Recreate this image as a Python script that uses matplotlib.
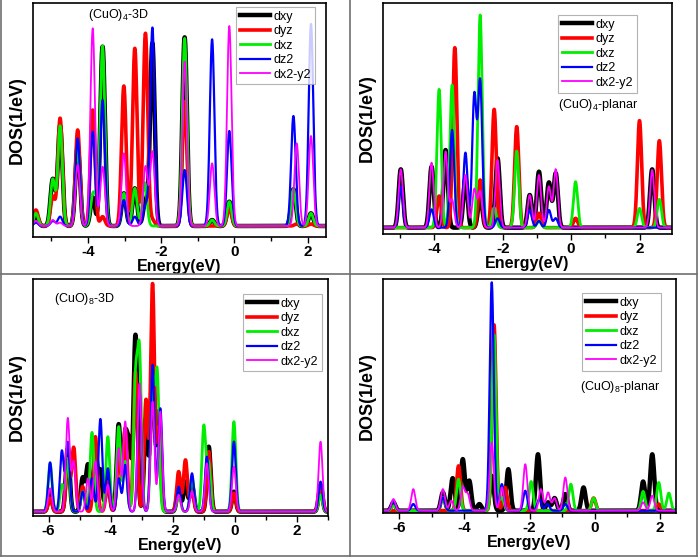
import numpy as np
import matplotlib
matplotlib.use("Agg")
import matplotlib.pyplot as plt
from matplotlib.lines import Line2D
from matplotlib.ticker import MultipleLocator

plt.rcParams['font.family'] = ['Liberation Sans', 'DejaVu Sans']
plt.rcParams['mathtext.fontset'] = 'custom'
plt.rcParams['mathtext.rm'] = 'Liberation Sans'
plt.rcParams['mathtext.default'] = 'regular'
plt.rcParams['axes.unicode_minus'] = False

orbitals = ["dxy", "dyz", "dxz", "dz2", "dx2-y2"]
colors = ["black", "#ff0000", "#00ee00", "#0000ff", "#ff00ff"]
widths = [3.2, 2.6, 2.0, 1.6, 1.3]

# peaks: (energy eV, height a.u.)
cuo4_3d = {
    "dxy": [(-5.42, 35), (-4.96, 140), (-4.76, 300), (-4.28, 240), (-3.87, 86), (-3.6, 538),
            (-3.02, 98), (-2.72, 113), (-2.43, 75), (-2.24, 548), (-1.36, 566), (-0.61, 18),
            (-0.14, 73), (1.61, 110), (2.09, 38)],
    "dyz": [(-5.42, 48), (-4.96, 88), (-4.76, 323), (-4.28, 288), (-3.87, 348), (-3.6, 28),
            (-3.02, 420), (-2.72, 533), (-2.43, 578), (-2.24, 18), (-1.36, 373), (-0.14, 53),
            (1.7, 6), (2.09, 6)],
    "dxz": [(-5.42, 38), (-4.96, 140), (-4.76, 300), (-4.28, 240), (-3.87, 86), (-3.76, 60),
            (-3.6, 538), (-3.02, 98), (-2.72, 113), (-2.45, 130), (-1.36, 563), (-0.61, 18),
            (-0.14, 73), (1.61, 110), (2.09, 38)],
    "dz2": [(-5.42, 10), (-4.96, 15), (-4.76, 28), (-4.28, 263), (-3.87, 283), (-3.6, 378),
            (-3.02, 78), (-2.72, 28), (-2.43, 60), (-2.24, 595), (-1.36, 168), (-0.61, 560),
            (-0.14, 285), (1.61, 330), (2.09, 606)],
    "dx2-y2": [(-5.42, 15), (-4.96, 18), (-4.76, 10), (-4.28, 183), (-3.87, 593), (-3.6, 178),
               (-3.02, 218), (-2.43, 178), (-2.24, 223), (-1.36, 493), (-0.61, 188), (-0.14, 600),
               (1.7, 248), (2.09, 270)],
}

cuo4_planar = {
    "dxy": [(-4.98, 175), (-4.08, 183), (-3.67, 233), (-3.09, 148), (-2.66, 93), (-2.15, 208),
            (-1.21, 98), (-0.94, 168), (-0.65, 135), (-0.45, 163), (2.37, 175)],
    "dyz": [(-3.86, 95), (-3.40, 540), (-2.66, 143), (-2.25, 355), (-1.59, 303), (-0.94, 43),
            (0.13, 28), (2.0, 321), (2.58, 261)],
    "dxz": [(-3.86, 415), (-3.48, 428), (-2.66, 638), (-2.25, 60), (-1.59, 230), (-0.94, 20),
            (0.13, 138), (2.0, 58), (2.58, 85)],
    "dz2": [(-4.98, 123), (-4.08, 55), (-3.48, 293), (-3.09, 225), (-2.83, 396), (-2.66, 438),
            (-2.15, 28), (-1.21, 53), (-0.94, 20), (-0.65, 53), (-0.45, 28)],
    "dx2-y2": [(-4.98, 175), (-4.08, 195), (-3.67, 228), (-3.48, 83), (-3.09, 158), (-2.83, 115),
               (-2.66, 108), (-2.15, 203), (-1.21, 98), (-0.94, 158), (-0.65, 123), (-0.45, 175),
               (2.37, 173)],
}

cuo8_3d = {
    "dxy": [(-5.95, 55), (-5.38, 190), (-4.9, 100), (-4.73, 140), (-4.49, 175), (-4.33, 120),
            (-4.09, 100), (-3.74, 262), (-3.53, 220), (-3.40, 190), (-3.2, 530), (-2.86, 280),
            (-2.65, 460), (-2.45, 300), (-1.81, 70), (-1.59, 90), (-1.38, 80), (-0.84, 195),
            (-0.03, 60), (2.76, 80)],
    "dyz": [(-5.95, 40), (-5.38, 150), (-5.19, 192), (-4.9, 75), (-4.49, 225), (-4.09, 90),
            (-3.74, 170), (-3.53, 250), (-3.2, 420), (-2.86, 335), (-2.65, 682), (-2.45, 250),
            (-1.81, 120), (-1.59, 155), (-1.38, 60), (-0.84, 180), (-0.03, 55), (2.76, 70)],
    "dxz": [(-5.95, 145), (-5.57, 80), (-5.38, 160), (-4.9, 60), (-4.6, 238), (-4.09, 225),
            (-3.74, 255), (-3.53, 150), (-3.2, 380), (-3.07, 460), (-2.65, 380), (-2.5, 410),
            (-1.81, 50), (-1.38, 105), (-1.0, 255), (-0.84, 140), (-0.03, 270), (2.76, 50)],
    "dz2": [(-5.95, 148), (-5.57, 182), (-5.38, 208), (-4.9, 60), (-4.6, 100), (-4.33, 278),
            (-4.09, 130), (-3.74, 100), (-3.53, 140), (-3.07, 365), (-2.65, 440), (-2.4, 310),
            (-1.81, 75), (-1.38, 115), (-0.9, 165), (-0.03, 210), (2.76, 90)],
    "dx2-y2": [(-5.95, 70), (-5.38, 280), (-5.19, 150), (-4.73, 100), (-4.49, 150), (-4.09, 80),
               (-3.74, 190), (-3.53, 270), (-3.07, 385), (-2.65, 330), (-2.4, 300), (-1.81, 50),
               (-1.38, 60), (-0.9, 145), (-0.03, 135), (2.76, 210)],
}

cuo8_planar = {
    "dxy": [(-6.18, 25), (-4.66, 55), (-4.36, 98), (-4.05, 155), (-3.85, 90), (-3.54, 20),
            (-3.16, 105), (-2.65, 125), (-1.74, 170), (-1.43, 25), (-1.23, 38), (-0.9, 50),
            (-0.34, 70), (1.49, 88), (1.77, 170)],
    "dyz": [(-4.18, 135), (-3.09, 560), (-2.75, 70), (-0.03, 38), (1.97, 20)],
    "dxz": [(-6.18, 15), (-4.66, 40), (-4.18, 95), (-3.09, 530), (-2.85, 40), (-1.95, 88),
            (-0.73, 80), (-0.03, 38), (1.49, 58), (1.97, 85), (2.28, 53)],
    "dz2": [(-6.18, 30), (-5.57, 20), (-4.66, 40), (-3.16, 688), (-2.85, 80), (-2.13, 60),
            (-1.7, 35), (-1.45, 20), (-0.9, 20)],
    "dx2-y2": [(-6.18, 35), (-5.57, 65), (-4.66, 65), (-4.4, 30), (-4.05, 70), (-3.9, 50),
               (-3.16, 205), (-2.85, 70), (-2.13, 140), (-1.65, 65), (-1.43, 55), (-1.23, 38),
               (-0.9, 100), (1.49, 25), (1.77, 45)],
}

titles = ["(CuO)$_4$-3D", "(CuO)$_4$-planar", "(CuO)$_8$-3D", "(CuO)$_8$-planar"]
xlims = [(-5.5, 2.5), (-5.5, 2.95), (-6.5, 3.0), (-6.5, 2.5)]
ylims = [(-33, 669), (-19, 674), (-13, 698), (-7, 698)]
SIGMA = 0.062


def broaden(e, peaks, sigma=SIGMA):
    dos = np.zeros_like(e)
    for c, h in peaks:
        dos += h * np.exp(-(e - c) ** 2 / (2 * sigma ** 2))
    return dos


fig = plt.figure(figsize=(7.0, 5.59), dpi=100)
# axes rectangles in figure fractions
rects = [
    (33 / 700, 1 - 237 / 559, 293 / 700, 234 / 559),
    (383 / 700, 1 - 234 / 559, 289 / 700, 231 / 559),
    (33 / 700, 1 - 516 / 559, 295 / 700, 237 / 559),
    (383 / 700, 1 - 513 / 559, 293 / 700, 234 / 559),
]
legend_pos = [(0.693, 0.983), (0.606, 0.948), (0.712, 0.937), (0.679, 0.94)]
title_pos = [(0.188, 0.949), (0.606, 0.56), (0.071, 0.916), (0.672, 0.54)]

for k, data in enumerate([cuo4_3d, cuo4_planar, cuo8_3d, cuo8_planar]):
    ax = fig.add_axes(rects[k])
    e = np.linspace(xlims[k][0], xlims[k][1], 3000)
    for orb, col, lw in zip(orbitals, colors, widths):
        ax.plot(e, broaden(e, data[orb]), color=col, lw=lw, label=orb)
    ax.set_xlim(*xlims[k])
    ax.set_ylim(*ylims[k])
    ax.set_yticks([])
    ax.xaxis.set_major_locator(MultipleLocator(2))
    ax.xaxis.set_minor_locator(MultipleLocator(1))
    ax.tick_params(axis='x', which='major', direction='out', length=4, width=1.0,
                   labelsize=11, pad=2)
    ax.tick_params(axis='x', which='minor', direction='out', length=3, width=1.0)
    for lab in ax.get_xticklabels():
        lab.set_fontweight('bold')
    for sp in ax.spines.values():
        sp.set_linewidth(1.2)
    ax.set_xlabel("Energy(eV)", fontsize=11.5, fontweight='bold', labelpad=0)
    ax.set_ylabel("DOS(1/eV)", fontsize=13, fontweight='bold', labelpad=5)
    leg = ax.legend(loc='upper left', bbox_to_anchor=legend_pos[k], borderaxespad=0,
                    fontsize=9, frameon=True, fancybox=False, handlelength=2.4,
                    handletextpad=0.3, labelspacing=0.2, borderpad=0.3)
    leg.get_frame().set_edgecolor('#a0a0a0')
    leg.get_frame().set_linewidth(0.8)
    ax.text(title_pos[k][0], title_pos[k][1], titles[k], transform=ax.transAxes,
            fontsize=9, ha='left', va='center')

# panel frame lines
grey = '#707070'
fig.add_artist(Line2D([1 / 700, 1 / 700], [1 - 556 / 559, 1], color=grey, lw=1.2))
fig.add_artist(Line2D([697 / 700, 697 / 700], [1 - 556 / 559, 1], color=grey, lw=1.2))
fig.add_artist(Line2D([1 / 700, 697 / 700], [1 - 556 / 559, 1 - 556 / 559], color=grey, lw=1.2))
fig.add_artist(Line2D([350 / 700, 350 / 700], [1 - 556 / 559, 1], color=grey, lw=1.2))
fig.add_artist(Line2D([1 / 700, 697 / 700], [1 - 274 / 559, 1 - 274 / 559], color=grey, lw=1.2))

fig.savefig("out.png", dpi=100)
